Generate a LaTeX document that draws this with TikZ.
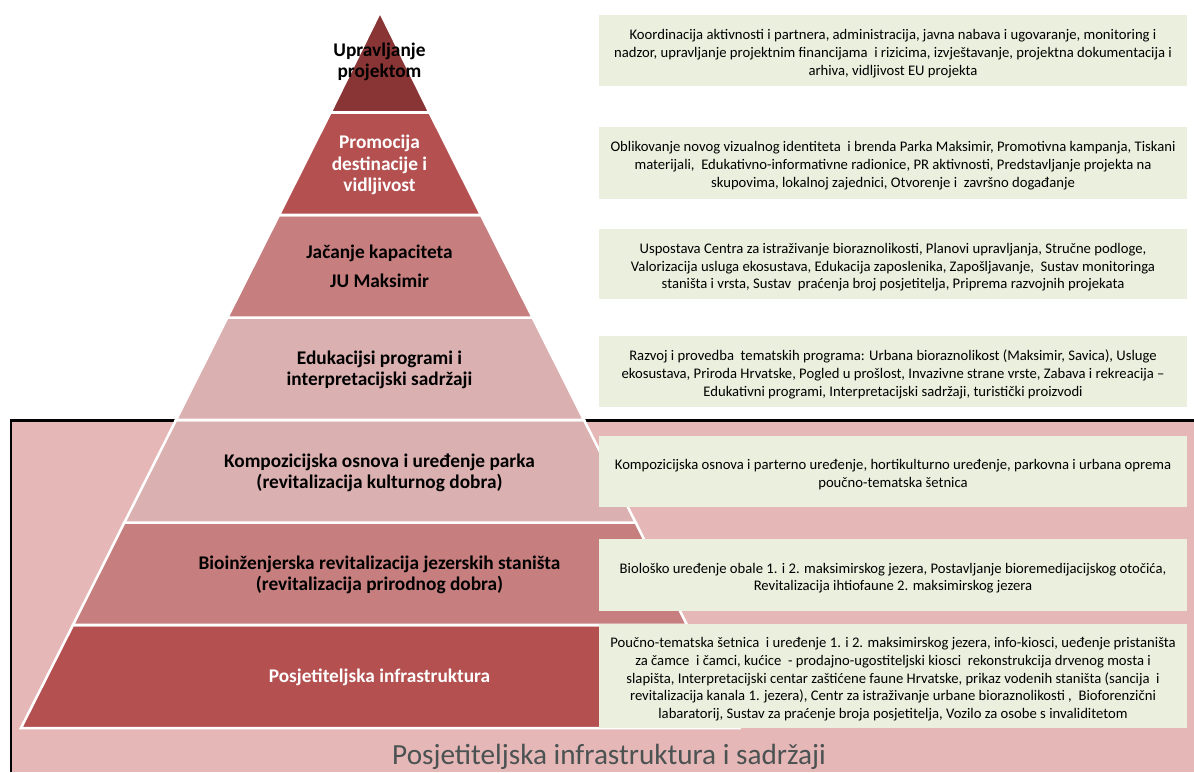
\documentclass[tikz,border=0pt]{standalone}
\usepackage{fontspec}
\setmainfont{Carlito}
\definecolor{tierA}{HTML}{8A3535}
\definecolor{tierB}{HTML}{B45050}
\definecolor{tierC}{HTML}{C67E7E}
\definecolor{tierD}{HTML}{DBB0B0}
\definecolor{panelpink}{HTML}{E6B7B7}
\definecolor{boxgreen}{HTML}{EBEFDE}
\definecolor{titlegrey}{HTML}{4A5252}
\newcommand{\topadj}{\rule{0pt}{12.5pt}}
\tikzset{
  tier/.style={draw=white,line width=1.9pt,line join=miter},
  tierlabel/.style={align=flush center,font=\fontsize{14.5}{16}\selectfont\bfseries,inner sep=0pt},
  infobox/.style={fill=boxgreen,align=flush center,text width=439pt,minimum width=441pt,inner sep=0pt,
    font=\fontsize{11}{13.2}\selectfont},
}
\begin{document}
\begin{tikzpicture}[x=0.75pt,y=-0.75pt]
\useasboundingbox (0,0) rectangle (1194,772);
% background panel
\fill[panelpink] (11,420) rectangle (1194,772);
\draw[black,line width=2pt] (11,772) -- (11,420.5) -- (1194,420.5);
% pyramid
\filldraw[tier,fill=tierB] (21,728) -- (739,728) -- (687,625) -- (73,625) -- cycle;
\filldraw[tier,fill=tierC] (73,625) -- (687,625) -- (635.7,522.7) -- (124.3,522.7) -- cycle;
\filldraw[tier,fill=tierD] (124.3,522.7) -- (635.7,522.7) -- (584,420) -- (176,420) -- cycle;
\filldraw[tier,fill=tierD] (176,420) -- (584,420) -- (532.7,317.7) -- (227.3,317.7) -- cycle;
\filldraw[tier,fill=tierC] (227.3,317.7) -- (532.7,317.7) -- (481,215) -- (279,215) -- cycle;
\filldraw[tier,fill=tierB] (279,215) -- (481,215) -- (429.5,112.5) -- (330.5,112.5) -- cycle;
\filldraw[tier,fill=tierA] (330.5,112.5) -- (429.5,112.5) -- (380,12) -- cycle;
% tier labels
\node[tierlabel] (t1) at (379.5,62) {Upravljanje\\projektom};
\node[tierlabel,text=white] (t2) at (379.5,165) {Promocija\\destinacije i\\vidljivost};
\node[tierlabel] (t3) at (379.5,266.5) {Jačanje kapaciteta\\[6pt]JU Maksimir};
\node[tierlabel] (t4) at (379.5,370) {Edukacijsi programi i\\interpretacijski sadržaji};
\node[tierlabel] (t5) at (379.5,473) {Kompozicijska osnova i uređenje parka\\(revitalizacija kulturnog dobra)};
\node[tierlabel] (t6) at (379.5,575) {Bioinženjerska revitalizacija jezerskih staništa\\(revitalizacija prirodnog dobra)};
\node[tierlabel,text=white] (t7) at (379.5,677) {Posjetiteljska infrastruktura};
% description boxes
\node[infobox,minimum height=53.25pt] (b1) at (893,50.5) {\topadj Koordinacija aktivnosti i partnera, administracija, javna nabava i ugovaranje, monitoring i\\nadzor, upravljanje projektnim financijama\ \ i rizicima, izvještavanje, projektna dokumentacija i\\arhiva, vidljivost EU projekta};
\node[infobox,minimum height=54pt] (b2) at (893,162.5) {\topadj Oblikovanje novog vizualnog identiteta\ \ i brenda Parka Maksimir, Promotivna kampanja, Tiskani\\materijali,\ \ Edukativno-informativne radionice, PR aktivnosti, Predstavljanje projekta na\\skupovima, lokalnoj zajednici, Otvorenje i\ \ završno događanje};
\node[infobox,minimum height=52.5pt] (b3) at (893,264) {\topadj Uspostava Centra za istraživanje bioraznolikosti, Planovi upravljanja, Stručne podloge,\\Valorizacija usluga ekosustava, Edukacija zaposlenika, Zapošljavanje,\ \ Sustav monitoringa\\staništa i vrsta, Sustav\ \ praćenja broj posjetitelja, Priprema razvojnih projekata};
\node[infobox,minimum height=53.25pt] (b4) at (893,371.5) {\topadj Razvoj i provedba\ \ tematskih programa: Urbana bioraznolikost (Maksimir, Savica), Usluge\\ekosustava, Priroda Hrvatske, Pogled u prošlost, Invazivne strane vrste, Zabava i rekreacija –\\Edukativni programi, Interpretacijski sadržaji, turistički proizvodi};
\node[infobox,minimum height=53.25pt] (b5) at (893,471.5) {\topadj Kompozicijska osnova i parterno uređenje, hortikulturno uređenje, parkovna i urbana oprema\\poučno-tematska šetnica};
\node[infobox,minimum height=54pt] (b6) at (893,575) {\topadj Biološko uređenje obale 1. i 2. maksimirskog jezera, Postavljanje bioremedijacijskog otočića,\\Revitalizacija ihtiofaune 2. maksimirskog jezera};
\node[infobox,minimum height=78pt] (b7) at (893,676) {\topadj Poučno-tematska šetnica\ \ i uređenje 1. i 2. maksimirskog jezera, info-kiosci, ueđenje pristaništa\\za čamce\ \ i čamci, kućice\ \ - prodajno-ugostiteljski kiosci\ \ rekonstrukcija drvenog mosta i\\slapišta, Interpretacijski centar zaštićene faune Hrvatske, prikaz vodenih staništa (sancija\ \ i\\revitalizacija kanala 1. jezera), Centr za istraživanje urbane bioraznolikosti ,\ \ Bioforenzični\\labaratorij, Sustav za praćenje broja posjetitelja, Vozilo za osobe s invaliditetom};
% panel title
\node[text=titlegrey,font=\fontsize{21.9}{24}\selectfont,inner sep=0pt] (title) at (609,757) {Posjetiteljska infrastruktura i sadržaji};
\end{tikzpicture}
\end{document}
